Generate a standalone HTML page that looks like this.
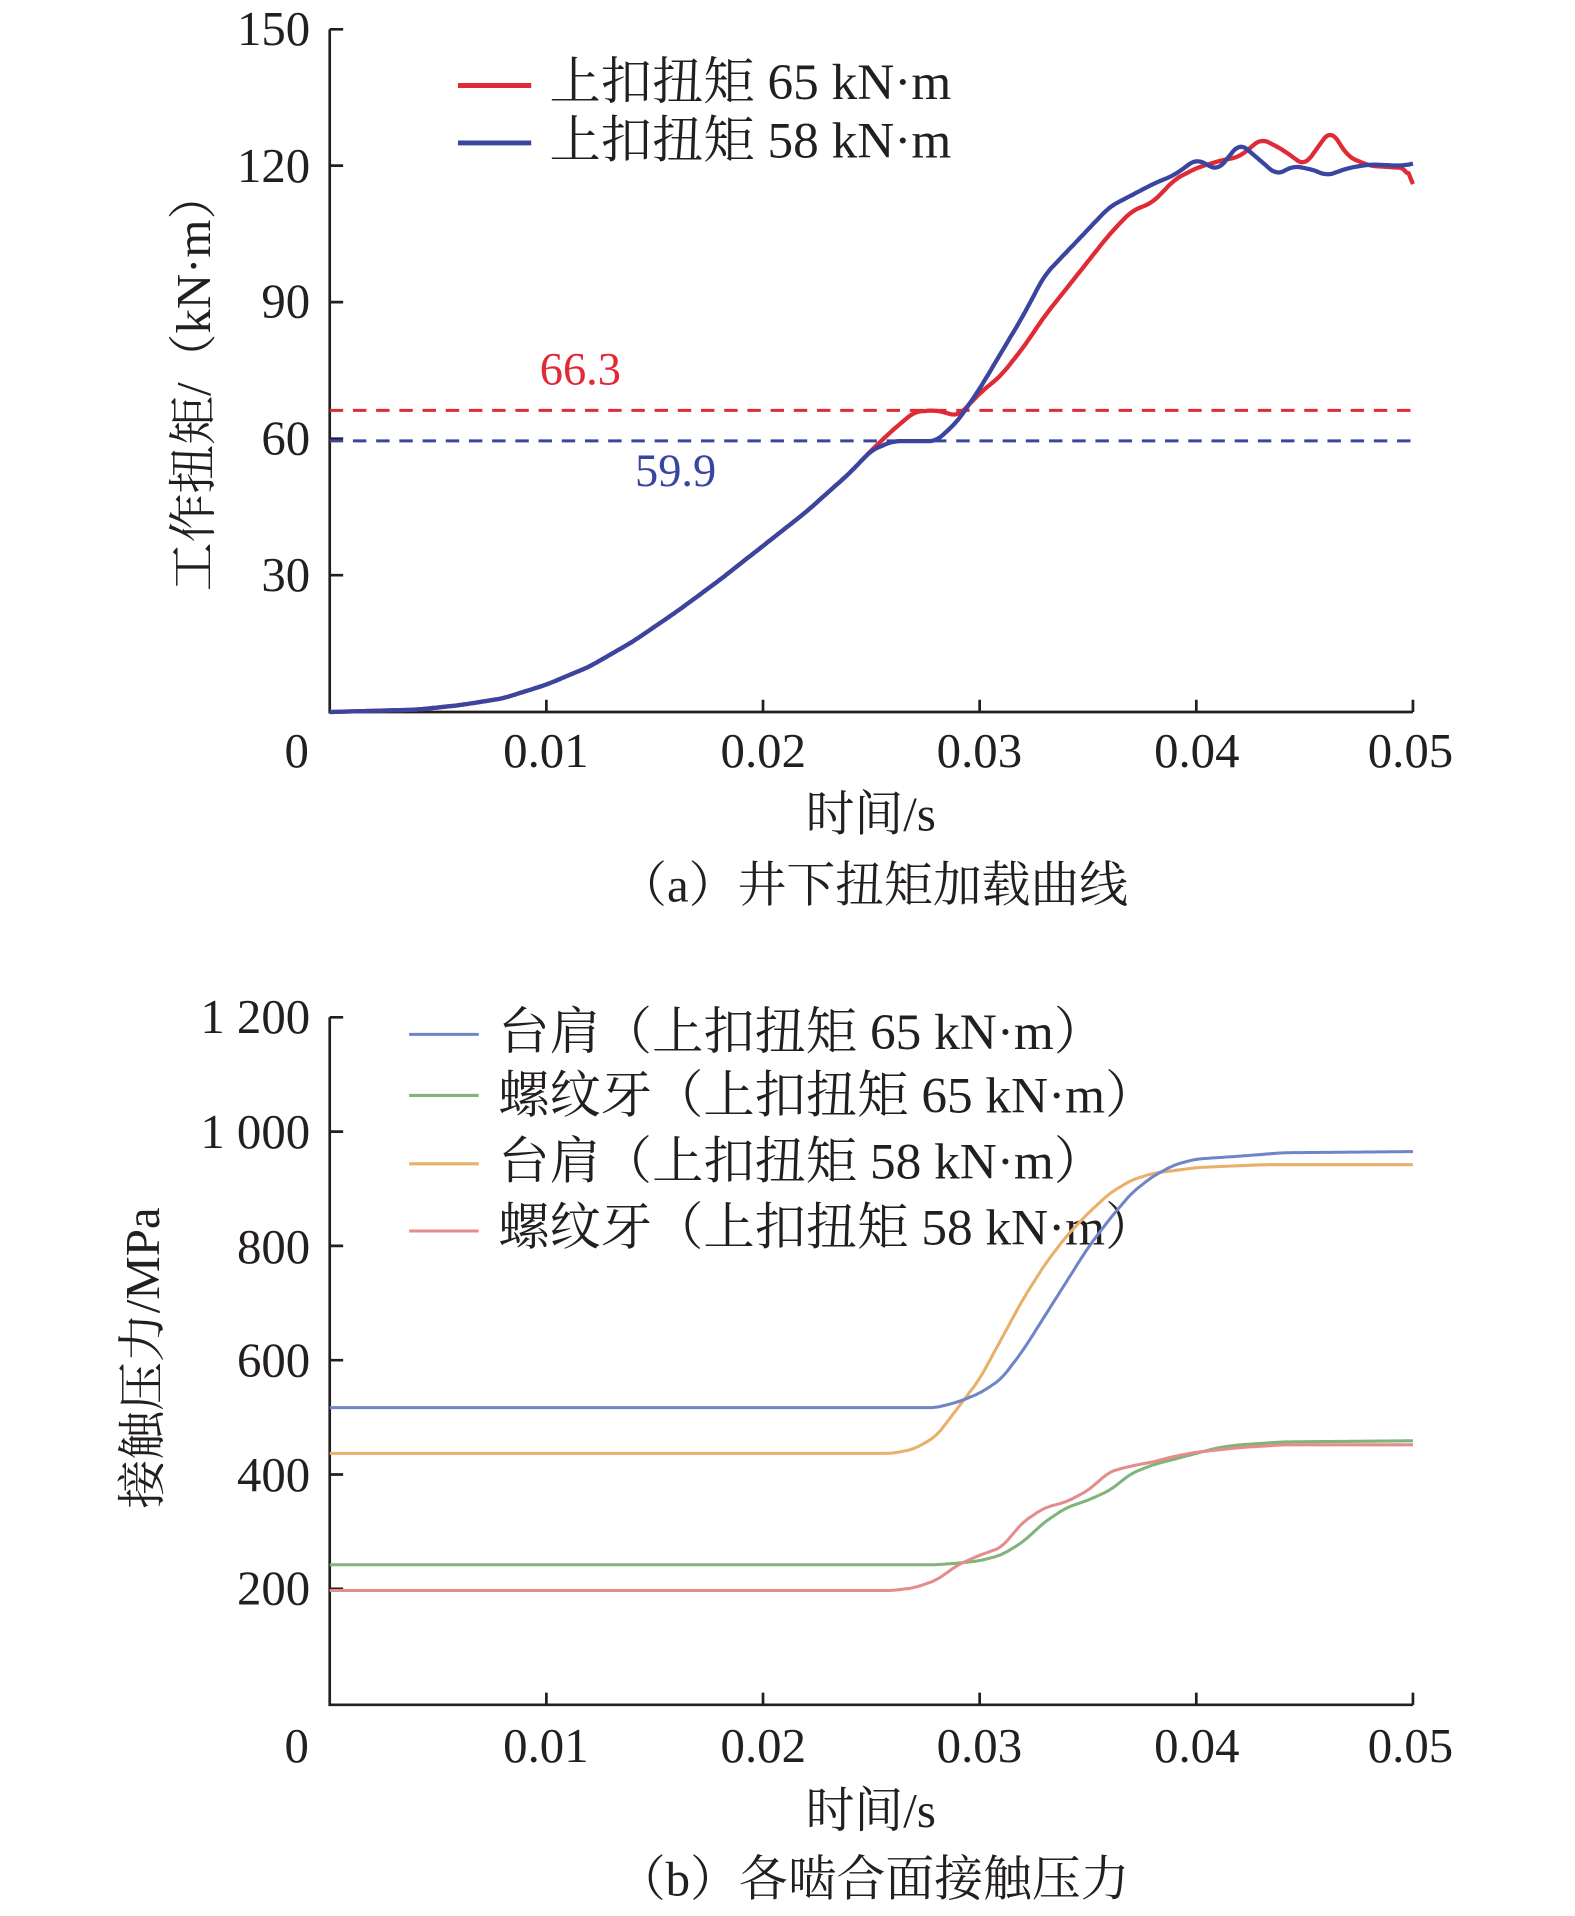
<!DOCTYPE html>
<html><head><meta charset="utf-8"><style>
html,body{margin:0;padding:0;background:#fff;}
svg{display:block;}
text{font-family:"Liberation Serif","Noto Serif CJK SC",serif;fill:#231f20;}
</style></head><body>
<svg id="s" width="1575" height="1916" viewBox="0 0 1289.7 1568.9" xmlns="http://www.w3.org/2000/svg" font-family="Liberation Serif, Noto Serif CJK SC, serif">
<rect width="1300" height="1600" fill="#fff"/>
<!-- top axes -->
<g stroke="#231f20" stroke-width="2.2" fill="none">
<path d="M270,24 V583 H1157"/>
<path d="M270,24 h11 M270,135.6 h11 M270,247.4 h11 M270,359.2 h11 M270,471 h11"/>
<path d="M447.4,583 v-10 M624.8,583 v-10 M802.2,583 v-10 M979.6,583 v-10 M1157,583 v-10"/>
</g>
<g font-size="40" text-anchor="end">
<text x="254" y="37">150</text><text x="254" y="149">120</text><text x="254" y="260">90</text><text x="254" y="372">60</text><text x="254" y="484">30</text>
</g>
<g font-size="40" text-anchor="middle">
<text x="243" y="628">0</text><text x="447" y="628">0.01</text><text x="625" y="628">0.02</text><text x="802" y="628">0.03</text><text x="980" y="628">0.04</text><text x="1155" y="628">0.05</text>
<text x="713" y="680">时间/s</text>
<text x="715" y="738">（a）井下扭矩加载曲线</text>
</g>
<text font-size="40" text-anchor="middle" transform="translate(172,312) rotate(-90)">工作扭矩/（kN·m）</text>
<path d="M270,336 H1157" stroke="#e02a36" stroke-width="2.5" stroke-dasharray="11,8"/>
<path d="M270,361 H1157" stroke="#3a45a0" stroke-width="2.5" stroke-dasharray="11,8"/>
<text x="442" y="315" font-size="38" style="fill:#e02a36">66.3</text>
<text x="520" y="398" font-size="38" style="fill:#3a45a0">59.9</text>
<path d="M375,70 H435" stroke="#e02a36" stroke-width="4"/>
<path d="M375,117 H435" stroke="#3a45a0" stroke-width="4"/>
<text x="450" y="81" font-size="42">上扣扭矩 65 kN·m</text>
<text x="450" y="129" font-size="42">上扣扭矩 58 kN·m</text>
<g id="top"></g>
<!-- bottom axes -->
<g stroke="#231f20" stroke-width="2.2" fill="none">
<path d="M270,833 V1396 H1157"/>
<path d="M270,833 h11 M270,926.6 h11 M270,1020.2 h11 M270,1113.8 h11 M270,1207.4 h11 M270,1301 h11"/>
<path d="M447.4,1396 v-10 M624.8,1396 v-10 M802.2,1396 v-10 M979.6,1396 v-10 M1157,1396 v-10"/>
</g>
<g font-size="40" text-anchor="end">
<text x="254" y="846">1 200</text><text x="254" y="940">1 000</text><text x="254" y="1034">800</text><text x="254" y="1127">600</text><text x="254" y="1221">400</text><text x="254" y="1314">200</text>
</g>
<g font-size="40" text-anchor="middle">
<text x="243" y="1443">0</text><text x="447" y="1443">0.01</text><text x="625" y="1443">0.02</text><text x="802" y="1443">0.03</text><text x="980" y="1443">0.04</text><text x="1155" y="1443">0.05</text>
<text x="713" y="1496">时间/s</text>
<text x="715" y="1552">（b）各啮合面接触压力</text>
</g>
<text font-size="40" text-anchor="middle" transform="translate(130,1112) rotate(-90)">接触压力/MPa</text>
<path d="M335,847 H392" stroke="#6f86c6" stroke-width="2.5"/>
<path d="M335,897 H392" stroke="#7fb47a" stroke-width="2.5"/>
<path d="M335,953 H392" stroke="#e8b069" stroke-width="2.5"/>
<path d="M335,1008 H392" stroke="#e58c8c" stroke-width="2.5"/>
<text x="408" y="859" font-size="42">台肩（上扣扭矩 65 kN·m）</text>
<text x="408" y="911" font-size="42">螺纹牙（上扣扭矩 65 kN·m）</text>
<text x="408" y="965" font-size="42">台肩（上扣扭矩 58 kN·m）</text>
<text x="408" y="1019" font-size="42">螺纹牙（上扣扭矩 58 kN·m）</text>
<g id="bot"></g>
</svg>
<script>
var NS="http://www.w3.org/2000/svg";
function X(t){return 270+t*17740;}
function interp(pts,t){
 for(var i=0;i<pts.length-1;i++){
  if(t>=pts[i][0]&&t<=pts[i+1][0]){var a=pts[i],b=pts[i+1];var f=(b[0]===a[0])?0:(t-a[0])/(b[0]-a[0]);return a[1]+f*(b[1]-a[1]);}
 }
 return pts[pts.length-1][1];
}
function sample(pts,win){
 var dt=0.0001,n=500,raw=[];
 for(var i=0;i<=n;i++)raw.push(interp(pts,i*dt));
 var out=[];
 for(var i=0;i<=n;i++){
  var s=0,c=0;
  for(var k=-win;k<=win;k++){var j=i+k;if(j<0||j>n)continue;s+=raw[j];c++;}
  out.push([i*dt,(i<2||i>n-2)?raw[i]:s/c]);
 }
 return out;
}
function mk(g,pts,fy,col,w,win){
 var s=sample(pts,win),d="";
 for(var i=0;i<s.length;i++){d+=(i?"L":"M")+X(s[i][0]).toFixed(1)+","+fy(s[i][1]).toFixed(1);}
 var p=document.createElementNS(NS,"path");p.setAttribute("d",d);p.setAttribute("fill","none");
 p.setAttribute("stroke",col);p.setAttribute("stroke-width",w);p.setAttribute("stroke-linejoin","round");
 document.getElementById(g).appendChild(p);
}
var YT=function(v){return 583-v*3.727;};
var base=[[0,0],[0.004,0.5],[0.006,1.5],[0.008,3],[0.01,6],[0.012,10],[0.014,15.5],[0.016,22],[0.018,29],[0.02,36.5],[0.022,44],[0.024,52.5],[0.025,57.5]];
var blue=base.concat([[0.026,59.5],[0.028,59.5],[0.029,64],[0.030,71],[0.031,79],[0.032,87],[0.033,96],[0.034,101],[0.035,106],[0.036,111],[0.037,113.5],[0.038,116],[0.039,118],[0.040,121.5],[0.041,119],[0.042,125],[0.043,121],[0.0437,118],[0.0445,120],[0.0455,119],[0.046,117.8],[0.047,119.5],[0.048,120.3],[0.0495,120],[0.05,120.5]]);
var red=base.concat([[0.026,62],[0.027,66],[0.028,66.3],[0.029,65],[0.030,70],[0.031,74],[0.032,80],[0.033,87],[0.034,93],[0.035,99],[0.036,105],[0.037,110],[0.038,112],[0.039,117],[0.040,119.5],[0.041,121],[0.042,122],[0.043,126],[0.044,123.5],[0.045,120],[0.0462,128],[0.047,122],[0.048,120],[0.0497,119.5],[0.05,116]]);
mk("top",red,YT,"#e02a36",3.5,3);
mk("top",blue,YT,"#3a45a0",3.5,3);
var YB=function(v){return 1396-v*0.468;};
var b1=[[0,520],[0.028,520],[0.029,530],[0.030,545],[0.031,570],[0.032,620],[0.033,680],[0.034,740],[0.035,800],[0.036,850],[0.037,895],[0.038,925],[0.039,945],[0.040,955],[0.042,960],[0.044,966],[0.05,968]];
var o1=[[0,440],[0.026,440],[0.027,448],[0.028,470],[0.029,520],[0.030,570],[0.031,640],[0.032,710],[0.033,770],[0.034,820],[0.035,860],[0.036,895],[0.037,918],[0.038,930],[0.040,940],[0.043,945],[0.05,945]];
var g1=[[0,245],[0.028,245],[0.029,248],[0.030,252],[0.031,262],[0.032,285],[0.033,320],[0.034,345],[0.035,358],[0.036,375],[0.037,405],[0.038,420],[0.039,430],[0.040,440],[0.041,450],[0.042,455],[0.044,460],[0.05,462]];
var r1=[[0,200],[0.026,200],[0.027,205],[0.028,218],[0.029,245],[0.030,262],[0.031,275],[0.032,320],[0.033,345],[0.034,355],[0.035,375],[0.036,408],[0.037,418],[0.038,425],[0.039,435],[0.040,442],[0.042,450],[0.044,455],[0.05,455]];
mk("bot",o1,YB,"#e8b069",2.5,3);
mk("bot",b1,YB,"#6f86c6",2.5,3);
mk("bot",g1,YB,"#7fb47a",2.5,3);
mk("bot",r1,YB,"#e58c8c",2.5,3);
</script>
</body></html>
